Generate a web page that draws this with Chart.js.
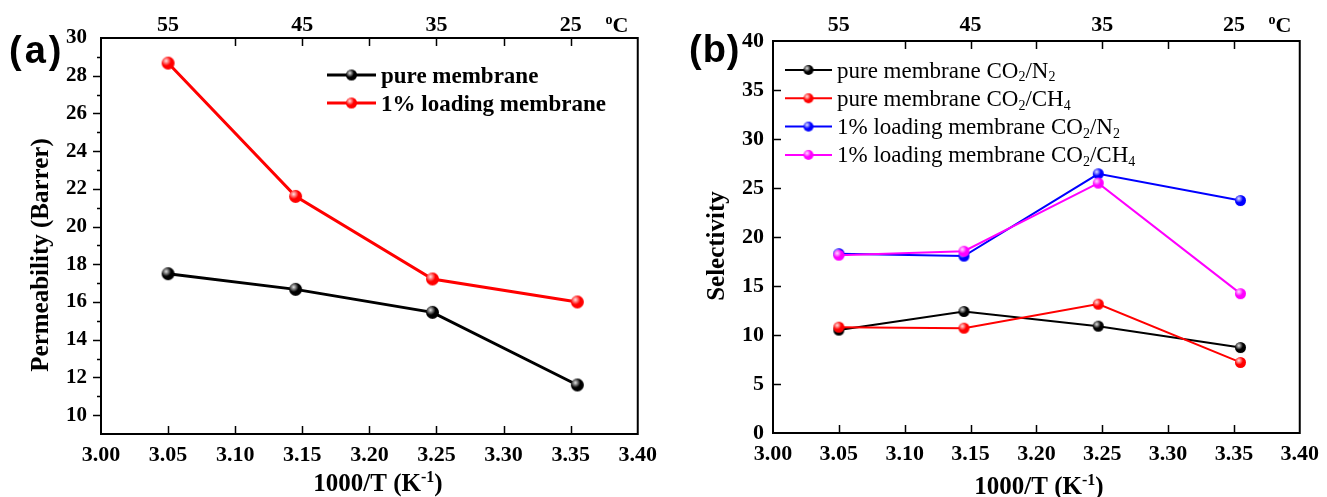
<!DOCTYPE html>
<html>
<head>
<meta charset="utf-8">
<script src="https://cdn.jsdelivr.net/npm/chart.js@4.4.1/dist/chart.umd.min.js"></script>
<style>
  html, body { margin: 0; padding: 0; background: #fff; }
  .panel { position: absolute; top: 0; height: 497px; }
  #wrapA { left: 0; width: 665px; }
  #wrapB { left: 665px; width: 662px; }
</style>
</head>
<body>
<div class="panel" id="wrapA"><canvas id="chartA"></canvas></div>
<div class="panel" id="wrapB"><canvas id="chartB"></canvas></div>
<script>
// x positions (1000/T) of the four temperatures
const invT = [3.05, 3.145, 3.247, 3.355];
const tempPos = [3.05, 3.15, 3.25, 3.35];
const tempLabels = ["55", "45", "35", "25"];
const xTickValues = [3.0, 3.05, 3.1, 3.15, 3.2, 3.25, 3.3, 3.35, 3.4];
const topTickValues = [3.1, 3.15, 3.2, 3.25, 3.3, 3.35];

// panel (a) permeability
const permTicks = [10, 12, 14, 16, 18, 20, 22, 24, 26, 28, 30];
const permMinor = [11, 13, 15, 17, 19, 21, 23, 25, 27, 29];
const permLabels = ["pure membrane", "1% loading membrane"];
const permPure = [17.5, 16.67, 15.45, 11.6];
const permLoaded = [28.67, 21.6, 17.22, 16.0];

// panel (b) selectivity
const selTicks = [0, 5, 10, 15, 20, 25, 30, 35, 40];
const selLabels = [
  "pure membrane CO₂/N₂",
  "pure membrane CO₂/CH₄",
  "1% loading membrane CO₂/N₂",
  "1% loading membrane CO₂/CH₄",
];
const selPureN2 = [10.5, 12.4, 10.9, 8.72];
const selPureCH4 = [10.8, 10.7, 13.15, 7.2];
const selLoadN2 = [18.3, 18.05, 26.45, 23.72];
const selLoadCH4 = [18.15, 18.55, 25.5, 14.22];

const SERIF = '"Liberation Serif", "Times New Roman", serif';
const SUB = { "₂": "2", "₄": "4" };
const SUP = { "⁻": "-", "¹": "1", "º": "o" };

function makeBall(color, r) {
  const c = document.createElement("canvas");
  const s = Math.ceil(r * 2 + 2);
  c.width = s;
  c.height = s;
  const g = c.getContext("2d");
  const m = s / 2;
  g.beginPath();
  g.arc(m, m, r, 0, Math.PI * 2);
  g.fillStyle = color;
  g.fill();
  const rg = g.createRadialGradient(m - r * 0.3, m - r * 0.35, 0, m - r * 0.3, m - r * 0.35, r * 0.75);
  rg.addColorStop(0, "rgba(255,255,255,0.9)");
  rg.addColorStop(1, "rgba(255,255,255,0)");
  g.fillStyle = rg;
  g.fill();
  return c;
}

function points(values) {
  return invT.map((x, i) => ({ x: x, y: values[i] }));
}

function drawRich(ctx, text, x, cy, size, weight, align) {
  const runs = [];
  for (const ch of text) {
    const kind = SUB[ch] ? "sub" : SUP[ch] ? "sup" : "n";
    const c = SUB[ch] || SUP[ch] || ch;
    const last = runs[runs.length - 1];
    if (last && last.kind === kind) last.t += c;
    else runs.push({ t: c, kind: kind });
  }
  const fontFor = (k) => `${weight} ${k === "n" ? size : Math.round(size * 0.62)}px ${SERIF}`;
  let total = 0;
  runs.forEach((r) => {
    ctx.font = fontFor(r.kind);
    r.w = ctx.measureText(r.t).width;
    total += r.w;
  });
  let px = align === "center" ? x - total / 2 : x;
  const base = cy + size * 0.33;
  ctx.textAlign = "left";
  ctx.textBaseline = "alphabetic";
  runs.forEach((r) => {
    ctx.font = fontFor(r.kind);
    const dy = r.kind === "sub" ? size * 0.16 : r.kind === "sup" ? -size * 0.36 : 0;
    ctx.fillText(r.t, px, base + dy);
    px += r.w;
  });
}

const decor = {
  id: "decor",
  afterDraw(chart, args, o) {
    const { ctx, chartArea: a, scales } = chart;
    const x = scales.x, y = scales.y;
    ctx.save();
    ctx.strokeStyle = "#000";
    ctx.fillStyle = "#000";
    ctx.lineWidth = 2;
    ctx.strokeRect(a.left, a.top, a.right - a.left, a.bottom - a.top);

    ctx.lineWidth = 1.5;
    ctx.beginPath();
    xTickValues.forEach((v) => {
      if (v <= x.min || v >= x.max) return;
      const px = Math.round(x.getPixelForValue(v)) + 0.5;
      ctx.moveTo(px, a.bottom);
      ctx.lineTo(px, a.bottom - o.tickLen);
    });
    topTickValues.forEach((v) => {
      const px = Math.round(x.getPixelForValue(v)) + 0.5;
      ctx.moveTo(px, a.top);
      ctx.lineTo(px, a.top + o.tickLen);
    });
    const dir = o.yOut ? -1 : 1;
    y.ticks.forEach((t) => {
      if (t.value <= y.min || t.value >= y.max) return;
      const py = Math.round(y.getPixelForValue(t.value)) + 0.5;
      ctx.moveTo(a.left, py);
      ctx.lineTo(a.left + dir * o.tickLen, py);
    });
    (o.minorY || []).forEach((v) => {
      const py = Math.round(y.getPixelForValue(v)) + 0.5;
      ctx.moveTo(a.left, py);
      ctx.lineTo(a.left + dir * o.tickLen * 0.5, py);
    });
    ctx.stroke();

    // unit on the top axis
    drawRich(ctx, "ºC", o.unitX, o.unitY, 22, "bold", "center");

    // panel letter
    ctx.font = `bold ${o.letterSize}px "Liberation Sans", Arial, sans-serif`;
    ctx.letterSpacing = o.letterSpacing;
    ctx.textAlign = "left";
    ctx.textBaseline = "middle";
    ctx.fillText(o.letter, o.letterX, o.letterY);
    ctx.letterSpacing = "0px";

    // axis titles
    drawRich(ctx, o.xTitle, o.xTitleX, o.xTitleY, o.titleSize, "bold", "center");
    ctx.save();
    ctx.translate(o.yTitleX, o.yTitleY);
    ctx.rotate(-Math.PI / 2);
    drawRich(ctx, o.yTitle, 0, 0, o.titleSize, "bold", "center");
    ctx.restore();

    // legend
    const L = o.legend;
    chart.data.datasets.forEach((ds, i) => {
      const ly = L.y0 + i * L.dy;
      ctx.strokeStyle = ds.borderColor;
      ctx.lineWidth = ds.borderWidth;
      ctx.beginPath();
      ctx.moveTo(L.x0, ly);
      ctx.lineTo(L.x1, ly);
      ctx.stroke();
      const img = L.balls[i];
      ctx.drawImage(img, (L.x0 + L.x1) / 2 - img.width / 2, ly - img.height / 2);
      ctx.fillStyle = "#000";
      drawRich(ctx, ds.label, L.tx, ly, L.size, L.weight, "left");
    });
    ctx.restore();
  },
};

function xScales(bottomH, topH) {
  return {
    x: {
      type: "linear",
      position: "bottom",
      min: 3.0,
      max: 3.4,
      afterBuildTicks: (s) => { s.ticks = xTickValues.map((v) => ({ value: v })); },
      afterFit: (s) => { s.height = bottomH; },
      grid: { display: false, drawTicks: false },
      border: { display: false },
      ticks: {
        autoSkip: false,
        maxRotation: 0,
        padding: 8,
        color: "#000",
        font: { family: SERIF, size: 22, weight: "bold" },
        callback: (v) => Number(v).toFixed(2),
      },
    },
    x2: {
      type: "linear",
      axis: "x",
      position: "top",
      min: 3.0,
      max: 3.4,
      afterBuildTicks: (s) => { s.ticks = tempPos.map((v) => ({ value: v })); },
      afterFit: (s) => { s.height = topH; },
      grid: { display: false, drawTicks: false },
      border: { display: false },
      ticks: {
        autoSkip: false,
        maxRotation: 0,
        padding: topH - 38 - 1,
        color: "#000",
        font: { family: SERIF, size: 22, weight: "bold" },
        callback: (v, i) => tempLabels[i],
      },
    },
  };
}

// ---------- panel (a) ----------
const ballsA = [makeBall("#000000", 6.5), makeBall("#ff0000", 6.5)];
const legBallsA = [makeBall("#000000", 5.5), makeBall("#ff0000", 5.5)];
const scalesA = xScales(63, 38);
scalesA.y = {
  type: "linear",
  min: 9,
  max: 30,
  afterBuildTicks: (s) => { s.ticks = permTicks.map((v) => ({ value: v })); },
  afterFit: (s) => { s.width = 101; },
  grid: { display: false, drawTicks: false },
  border: { display: false },
  ticks: {
    padding: 14,
    color: "#000",
    font: { family: SERIF, size: 21, weight: "bold" },
  },
};

new Chart(document.getElementById("chartA"), {
  type: "line",
  data: {
    datasets: [
      {
        label: permLabels[0],
        data: points(permPure),
        borderColor: "#000000",
        borderWidth: 3,
        pointStyle: ballsA[0],
      },
      {
        label: permLabels[1],
        data: points(permLoaded),
        borderColor: "#ff0000",
        borderWidth: 3,
        pointStyle: ballsA[1],
      },
    ],
  },
  options: {
    responsive: true,
    maintainAspectRatio: false,
    animation: false,
    layout: { padding: { left: 0, right: 24, top: 0, bottom: 0 } },
    scales: scalesA,
    plugins: {
      legend: { display: false },
      tooltip: { enabled: false },
      decor: {
        tickLen: 8,
        yOut: true,
        minorY: permMinor,
        unitX: 617,
        unitY: 25,
        letter: "(a)",
        letterSize: 38,
        letterSpacing: "3px",
        letterX: 9,
        letterY: 53,
        xTitle: "1000/T (K⁻¹)",
        xTitleX: 378,
        xTitleY: 483,
        yTitle: "Permeability (Barrer)",
        yTitleX: 40,
        yTitleY: 255,
        titleSize: 25,
        legend: { x0: 327, x1: 376, tx: 381, y0: 75, dy: 28, size: 23, weight: "bold", balls: legBallsA },
      },
    },
  },
  plugins: [decor],
});

// ---------- panel (b) ----------
const colorsB = ["#000000", "#ff0000", "#0000ff", "#ff00ff"];
const valuesB = [selPureN2, selPureCH4, selLoadN2, selLoadCH4];
const legBallsB = colorsB.map((c) => makeBall(c, 5));
const scalesB = xScales(64, 41);
scalesB.y = {
  type: "linear",
  min: 0,
  max: 40,
  afterBuildTicks: (s) => { s.ticks = selTicks.map((v) => ({ value: v })); },
  afterFit: (s) => { s.width = 108; },
  grid: { display: false, drawTicks: false },
  border: { display: false },
  ticks: {
    padding: 9,
    color: "#000",
    font: { family: SERIF, size: 22, weight: "bold" },
  },
};

new Chart(document.getElementById("chartB"), {
  type: "line",
  data: {
    datasets: selLabels.map((label, i) => ({
      label: label,
      data: points(valuesB[i]),
      borderColor: colorsB[i],
      borderWidth: 2,
      pointStyle: makeBall(colorsB[i], 5.5),
      order: 4 - i,
    })),
  },
  options: {
    responsive: true,
    maintainAspectRatio: false,
    animation: false,
    layout: { padding: { left: 0, right: 21, top: 0, bottom: 0 } },
    scales: scalesB,
    plugins: {
      legend: { display: false },
      tooltip: { enabled: false },
      decor: {
        tickLen: 8,
        yOut: false,
        minorY: [],
        unitX: 615,
        unitY: 25,
        letter: "(b)",
        letterSize: 38,
        letterSpacing: "1px",
        letterX: 24,
        letterY: 52,
        xTitle: "1000/T (K⁻¹)",
        xTitleX: 374,
        xTitleY: 486,
        yTitle: "Selectivity",
        yTitleX: 51,
        yTitleY: 246,
        titleSize: 25,
        legend: { x0: 120, x1: 167, tx: 172, y0: 70, dy: 28.3, size: 23, weight: "normal", balls: legBallsB },
      },
    },
  },
  plugins: [decor],
});
</script>
</body>
</html>
